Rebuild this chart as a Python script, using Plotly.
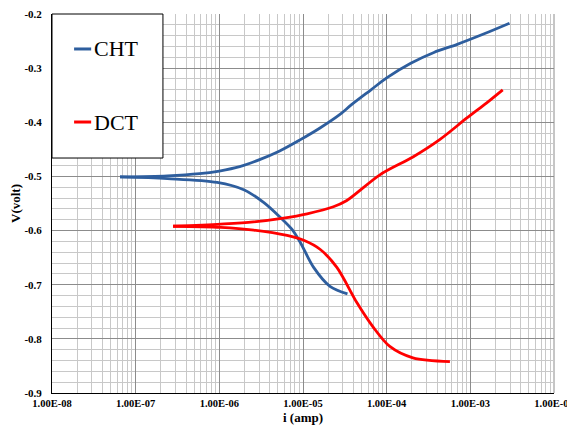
import plotly.graph_objects as go

# ---- data (current in A, potential in V) ----
cht_cath_i = [3.4e-5, 2.1e-5, 1.34e-5, 9.29e-6, 7.39e-6, 5.37e-6, 3.44e-6, 1.99e-6, 9.4e-7, 2.4e-7, 6.5e-8]
cht_cath_v = [-0.717, -0.703, -0.668, -0.622, -0.598, -0.576, -0.549, -0.525, -0.511, -0.504, -0.501]
cht_anod_i = [6.5e-8, 2.4e-7, 5.8e-7, 1.0e-6, 1.75e-6, 3.03e-6, 5.26e-6, 9.1e-6, 1.58e-5, 2.74e-5,
              3.77e-5, 6.5e-5, 1.0e-4, 1.94e-4, 3.67e-4, 6.97e-4, 1.44e-3, 2.94e-3]
cht_anod_v = [-0.501, -0.499, -0.495, -0.490, -0.482, -0.469, -0.453, -0.433, -0.411, -0.386,
              -0.368, -0.340, -0.318, -0.291, -0.271, -0.256, -0.237, -0.217]

dct_cath_i = [5.7e-4, 2.06e-4, 1.09e-4, 6.8e-5, 4.4e-5, 2.54e-5, 1.61e-5, 1.02e-5, 6.45e-6, 2.58e-6,
              1.04e-6, 2.8e-7]
dct_cath_v = [-0.842, -0.835, -0.814, -0.777, -0.733, -0.668, -0.635, -0.618, -0.609, -0.599,
              -0.594, -0.592]
dct_anod_i = [2.8e-7, 1.04e-6, 2.56e-6, 5.87e-6, 1.12e-5, 2.31e-5, 3.3e-5, 8.3e-5, 2.06e-4, 4.3e-4,
              9.1e-4, 1.57e-3, 2.44e-3]
dct_anod_v = [-0.592, -0.588, -0.584, -0.577, -0.569, -0.556, -0.545, -0.497, -0.464, -0.432,
              -0.392, -0.364, -0.340]

x_tick_vals = [1e-8, 1e-7, 1e-6, 1e-5, 1e-4, 1e-3, 1e-2]
x_tick_text = ["1.00E-08", "1.00E-07", "1.00E-06", "1.00E-05", "1.00E-04", "1.00E-03", "1.00E-02"]
y_tick_vals = [-0.9, -0.8, -0.7, -0.6, -0.5, -0.4, -0.3, -0.2]
y_tick_text = ["-0.9", "-0.8", "-0.7", "-0.6", "-0.5", "-0.4", "-0.3", "-0.2"]

series_names = ["CHT", "DCT"]
BLUE = "#2E5E9E"
RED = "#FF0000"
SERIF = "Liberation Serif"

fig = go.Figure()
for xs, ys, col in [
    (cht_cath_i, cht_cath_v, BLUE), (cht_anod_i, cht_anod_v, BLUE),
    (dct_cath_i, dct_cath_v, RED), (dct_anod_i, dct_anod_v, RED),
]:
    fig.add_trace(go.Scatter(x=xs, y=ys, mode="lines",
                             line=dict(color=col, width=2.8, shape="spline", smoothing=0.9),
                             showlegend=False, hoverinfo="skip"))

# right frame line (gridline at 1e-2)
fig.add_shape(type="line", xref="paper", yref="paper", x0=1, x1=1, y0=0, y1=1,
              line=dict(color="#8C8C8C", width=1), layer="below")

# manual legend box
fig.add_shape(type="rect", xref="paper", yref="paper", x0=0, x1=0.221, y0=0.62, y1=1.0,
              line=dict(color="black", width=1), fillcolor="white", layer="above")
for name, col, yp in [(series_names[0], BLUE, 0.9077), (series_names[1], RED, 0.715)]:
    fig.add_shape(type="line", xref="paper", yref="paper", x0=0.044, x1=0.078, y0=yp, y1=yp,
                  line=dict(color=col, width=3), layer="above")
    fig.add_annotation(xref="paper", yref="paper", x=0.08, y=yp, text=name, showarrow=False,
                       xanchor="left", yanchor="middle",
                       font=dict(family=SERIF, size=22, color="black"))

# page body has an 8px default margin; plot area placed to match the window
fig.update_layout(
    width=575, height=424,
    margin=dict(l=44, r=29, t=6, b=39),
    paper_bgcolor="white", plot_bgcolor="white",
    showlegend=False,
    font=dict(family=SERIF, color="black"),
)
fig.update_xaxes(
    type="log", range=[-8, -2],
    tickmode="array", tickvals=x_tick_vals, ticktext=["<b>%s</b>" % t for t in x_tick_text],
    tickfont=dict(family=SERIF, size=10.5, color="black"),
    ticklabeloverflow="allow",
    showgrid=True, gridcolor="#8C8C8C", gridwidth=1,
    minor=dict(showgrid=True, gridcolor="#C8C8C8", gridwidth=1, dtick="D1"),
    showline=True, linecolor="black", linewidth=1, mirror=False,
    ticks="", zeroline=False, automargin=False,
    title=dict(text="<b>i (amp)</b>", font=dict(family=SERIF, size=13, color="black"), standoff=5),
)
fig.update_yaxes(
    range=[-0.9, -0.2],
    tickmode="array", tickvals=y_tick_vals, ticktext=["<b>%s</b>" % t for t in y_tick_text],
    tickfont=dict(family=SERIF, size=11, color="black"),
    ticklabelstandoff=7, ticklabeloverflow="allow",
    showgrid=True, gridcolor="#8C8C8C", gridwidth=1,
    minor=dict(showgrid=True, gridcolor="#C8C8C8", gridwidth=1, dtick=0.02),
    showline=True, linecolor="black", linewidth=1,
    ticks="", zeroline=False, automargin=False,
    title=dict(text="<b>V(volt)</b>", font=dict(family=SERIF, size=13, color="black"), standoff=6),
)

fig.write_html("out.html")
